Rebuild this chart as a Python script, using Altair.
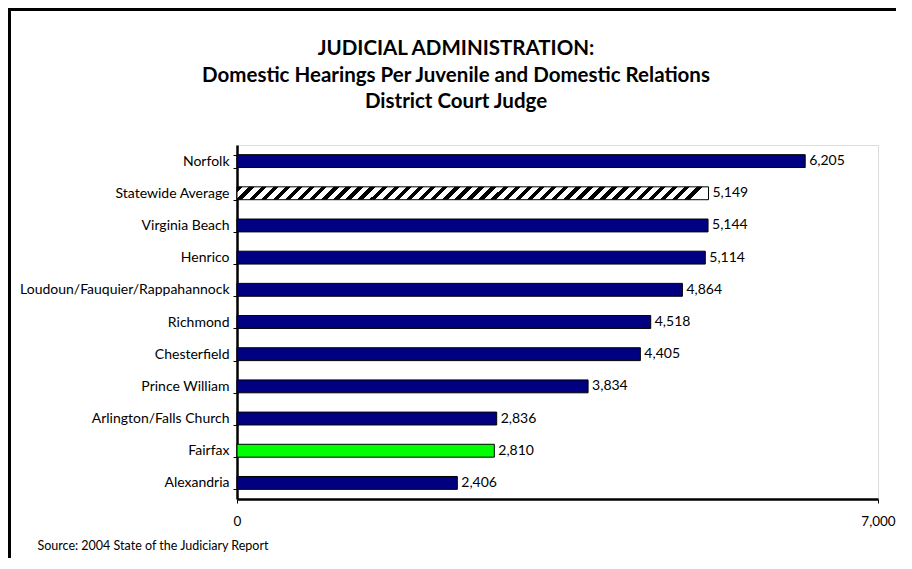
import altair as alt
import pandas as pd

categories = ["Norfolk", "Statewide Average", "Virginia Beach", "Henrico",
              "Loudoun/Fauquier/Rappahannock", "Richmond", "Chesterfield",
              "Prince William", "Arlington/Falls Church", "Fairfax", "Alexandria"]
values = [6205, 5149, 5144, 5114, 4864, 4518, 4405, 3834, 2836, 2810, 2406]
groups = ["district", "average", "district", "district", "district", "district",
          "district", "district", "district", "fairfax", "district"]
x_ticks = [0, 7000]
title_lines = ["JUDICIAL ADMINISTRATION:",
               "Domestic Hearings Per Juvenile and Domestic Relations",
               "District Court Judge"]
source = "Source: 2004 State of the Judiciary Report"

df = pd.DataFrame({"court": categories, "hearings": values, "group": groups})

FONT = "Lato"
PW, PH = 641, 354
PAD_L, PAD_T, PAD_R = 229, 137, 18
TOTAL_W, TOTAL_H = 888, 550

# diagonal hatch via a striped linear gradient
N = 39
r = 12.9 / 471.5
stops = []
for k in range(N):
    a, b, c = k / N, (k + 0.45) / N, (k + 1) / N
    stops += [alt.GradientStop(offset=a, color="#000000"),
              alt.GradientStop(offset=b, color="#000000"),
              alt.GradientStop(offset=b, color="#ffffff"),
              alt.GradientStop(offset=c, color="#ffffff")]
hatch = alt.LinearGradient(gradient="linear", stops=stops, x1=0, y1=0, x2=1, y2=r)

y = alt.Y("court:N", sort=categories, title=None,
          scale=alt.Scale(paddingInner=0.6, paddingOuter=0.3),
          axis=alt.Axis(tickBand="extent", domainColor="black", domainWidth=2.5,
                        tickColor="black", tickSize=4, tickWidth=1,
                        labelFont=FONT, labelFontSize=14, labelColor="black",
                        labelPadding=4, labelLimit=400))
x = alt.X("hearings:Q", scale=alt.Scale(domain=[0, 7000], nice=False),
          title=source,
          axis=alt.Axis(values=x_ticks, format=",.0f", grid=False, labelFlush=False,
                        domainColor="black", domainWidth=2.5,
                        tickColor="black", tickSize=4, tickWidth=1,
                        labelFont=FONT, labelFontSize=13.5, labelColor="black",
                        labelPadding=11,
                        titleFont=FONT, titleFontSize=12.5, titleFontWeight="normal",
                        titleColor="black", titleAlign="left", titleBaseline="middle",
                        titleAnchor="start", titleX=-200, titleY=46))

base = alt.Chart(df)
bars = base.transform_filter("datum.group != 'average'").mark_bar(
    stroke="black", strokeWidth=1).encode(
    x=x, y=y,
    color=alt.Color("group:N", legend=None,
                    scale=alt.Scale(domain=["district", "fairfax"],
                                    range=["#000080", "#00ff00"])))
avg = base.transform_filter("datum.group == 'average'").mark_bar(
    fill=hatch, stroke="black", strokeWidth=1).encode(x=x, y=y)
labels = base.mark_text(align="left", baseline="middle", dx=4, font=FONT,
                        fontSize=14, color="black").encode(
    x=x, y=y, text=alt.Text("hearings:Q", format=",.0f"))

frame_data = alt.Data(values=[{"k": 0}])
left_border = alt.Chart(frame_data).mark_rule(color="black", strokeWidth=4).encode(
    x=alt.value(1 - PAD_L), y=alt.value(-PAD_T), y2=alt.value(TOTAL_H - PAD_T))
top_border = alt.Chart(frame_data).mark_rule(color="black", strokeWidth=4).encode(
    y=alt.value(1 - PAD_T), x=alt.value(-PAD_L), x2=alt.value(TOTAL_W - PAD_L + 10))
title = alt.Chart(frame_data).mark_text(
    text=title_lines, font=FONT, fontSize=20.5, fontWeight="bold", color="black",
    lineHeight=26.5, align="center", baseline="alphabetic").encode(
    x=alt.value(448 - PAD_L), y=alt.value(-90))

chart = alt.layer(bars, avg, labels, left_border, top_border, title).properties(
    width=PW, height=PH,
    autosize="none",
    padding={"left": PAD_L, "top": PAD_T, "right": PAD_R,
             "bottom": TOTAL_H - PAD_T - PH},
).configure_view(stroke="black", strokeWidth=2).configure(background="white")

chart.save("out.html", embed_options={"renderer": "svg", "actions": False})
